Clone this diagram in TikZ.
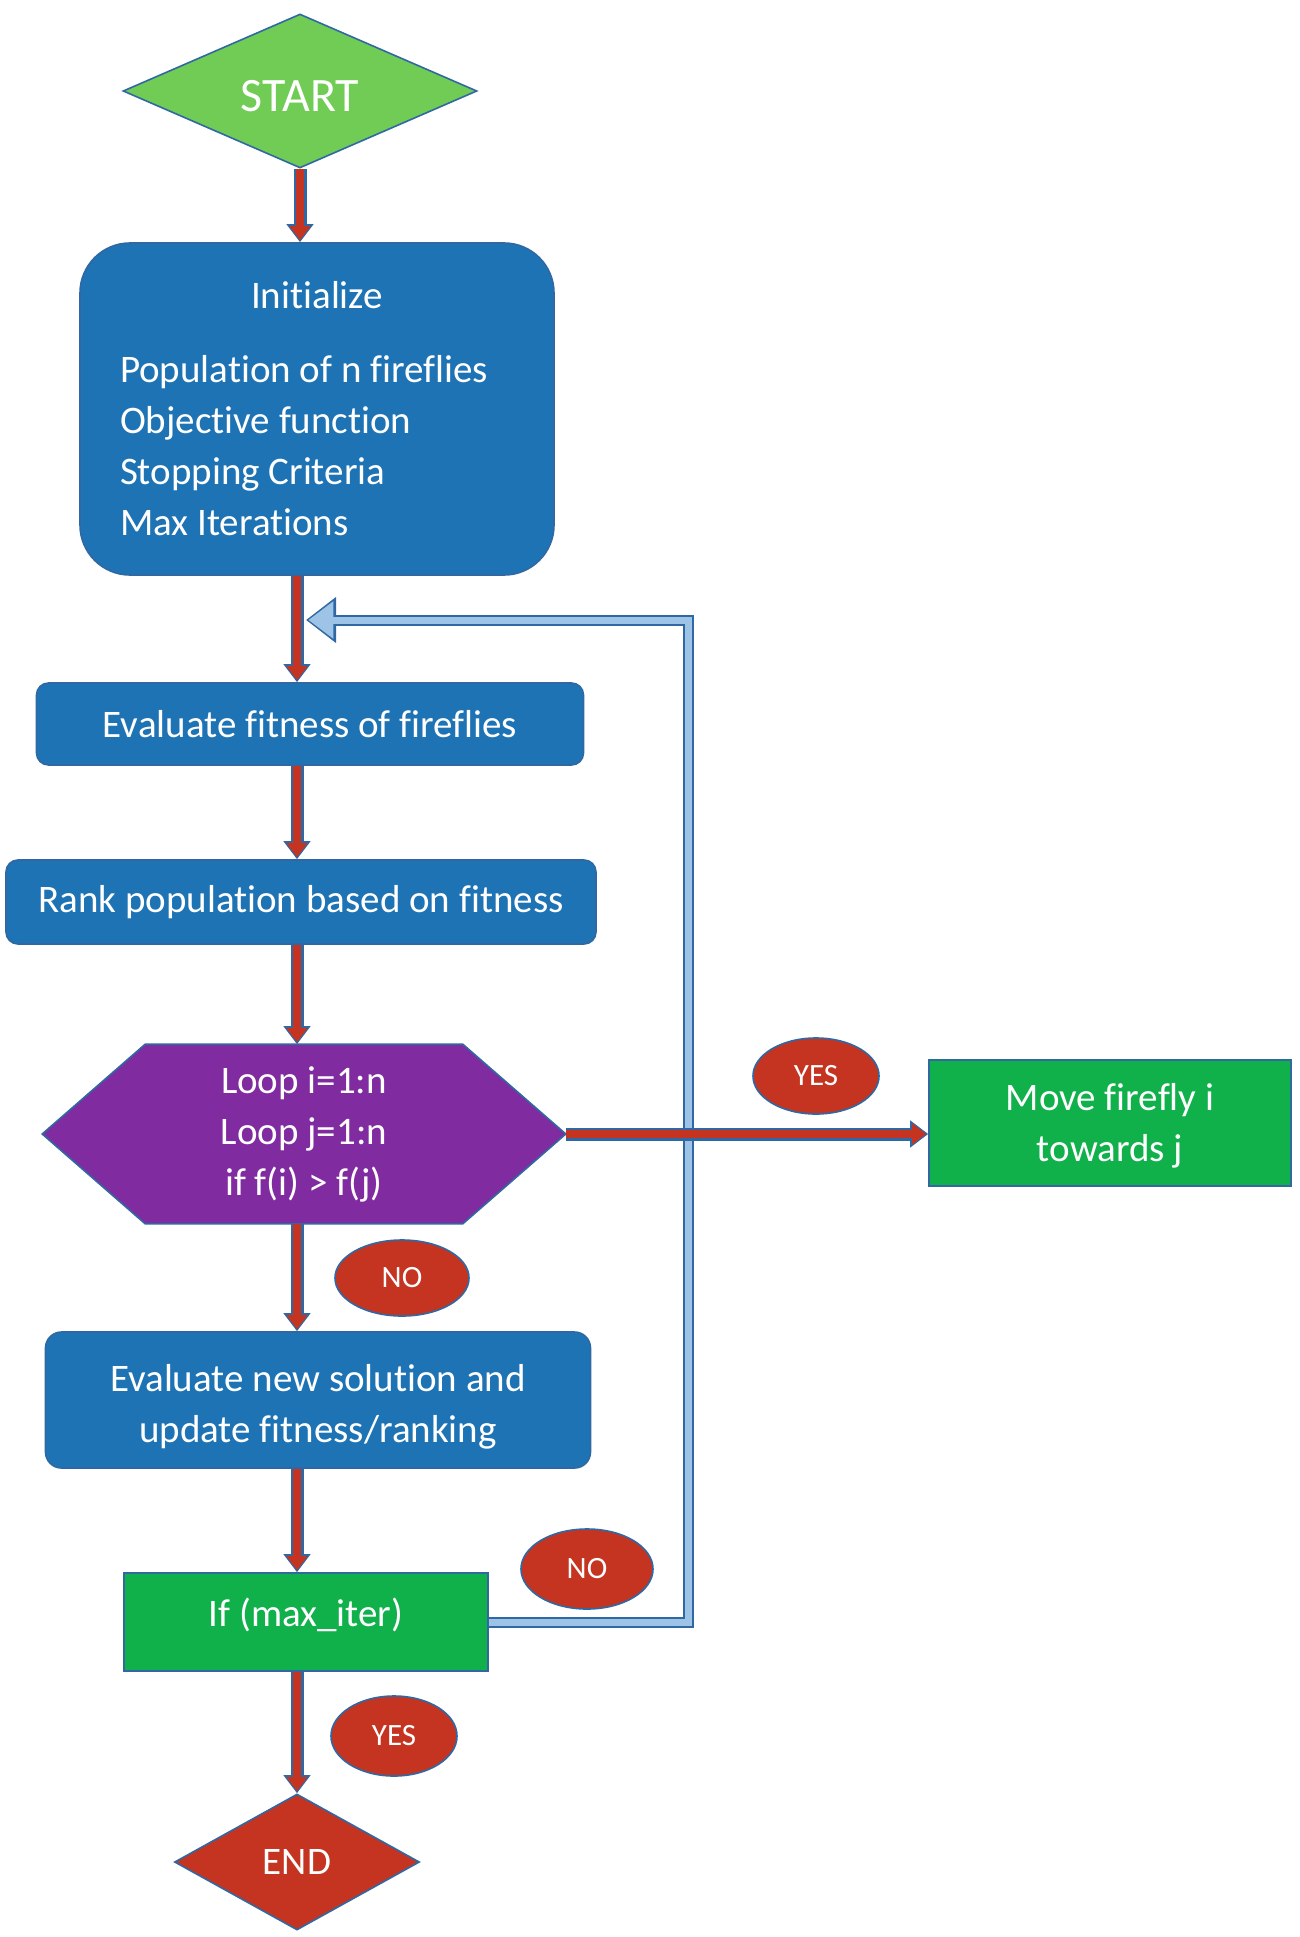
\documentclass[tikz,border=0pt]{standalone}
\usepackage{fontspec}
\setmainfont{Carlito}[Ligatures=CommonOff]
\usetikzlibrary{shapes.geometric,arrows.meta,backgrounds}

\definecolor{startgreen}{RGB}{112,204,84}
\definecolor{boxblue}{RGB}{30,115,181}
\definecolor{edgeblue}{RGB}{47,104,163}
\definecolor{looppurple}{RGB}{128,43,160}
\definecolor{boxgreen}{RGB}{16,176,74}
\definecolor{answerred}{RGB}{197,52,32}
\definecolor{backblue}{RGB}{157,195,230}

\newcommand\boxfont{\fontsize{19.5}{25.5}\selectfont}
\newcommand\answerfont{\fontsize{15.5}{18}\selectfont}
\newcommand\startfont{\fontsize{24}{28}\selectfont}

\tikzset{
  base/.style={draw=edgeblue, line width=0.8pt, text=white, font=\boxfont,
    inner sep=0pt, align=center},
  blockbox/.style={base, fill=boxblue, rounded corners=6pt},
  greenbox/.style={base, fill=boxgreen},
  answer/.style={base, ellipse, fill=answerred, font=\answerfont},
  terminal/.style={base, diamond, aspect=2.3},
  flow/.style={draw=answerred, line width=4pt, -{Triangle[length=7pt,width=10pt]},
    shorten >=1pt,
    preaction={draw=edgeblue, line width=6.5pt, -{Triangle[length=9pt,width=13pt]},
      shorten >=0pt}},
  back/.style={draw=backblue, line width=3.5pt, line join=miter,
    -{Triangle[length=12.5pt,width=18pt]}, shorten >=1.2pt,
    preaction={draw=edgeblue, line width=5.5pt, line join=miter,
      -{Triangle[length=15pt,width=22pt]}, shorten >=0pt}}
}

\begin{document}
\begin{tikzpicture}[x=0.5pt,y=-0.5pt]
  \useasboundingbox (0,0) rectangle (1300,1937);

  % main column
  \node[terminal, fill=startgreen, minimum width=177pt, minimum height=77pt,
    font=\startfont] (start) at (300,91) {\rule{0pt}{21pt}START};
  \node[blockbox, rounded corners=25pt, minimum width=237pt, minimum height=166pt,
    text width=197pt, align=left] (init) at (317,409)
    {\spaceskip=0pt\xspaceskip=0pt\relax
     \makebox[197pt]{Initialize}\\[11.5pt]
     Population of n fireflies\\
     Objective function\\
     Stopping Criteria\\
     Max Iterations};
  \node[blockbox, minimum width=273.5pt, minimum height=41pt] (eval) at (310,724)
    {Evaluate fitness of fireflies};
  \node[blockbox, minimum width=295pt, minimum height=42pt] (rank) at (301,902)
    {Rank population based on fitness};
  \node[base, draw=none, minimum width=261pt, minimum height=89pt] (loop) at (304,1134)
    {Loop i=1:n\\ Loop j=1:n\\ if f(i) > f(j)};
  \node[blockbox, rounded corners=8pt, minimum width=272.5pt, minimum height=68pt]
    (evalnew) at (318,1400)
    {\rule{0pt}{20pt}Evaluate new solution and\\ update fitness/ranking};
  \node[greenbox, minimum width=182pt, minimum height=49pt] (ifmax) at (306,1622)
    {\raisebox{10pt}{If (max\_iter)}};
  \node[terminal, aspect=1.8, fill=answerred, minimum width=122.5pt,
    minimum height=68pt] (end) at (297,1862) {END};

  % side branch
  \node[greenbox, minimum width=181pt, minimum height=63pt] (move) at (1110,1123)
    {\rule{0pt}{16pt}Move firefly i\\ towards j};

  % yes / no tags
  \node[answer, minimum width=63pt, minimum height=38pt] (yesmove) at (816,1076) {YES};
  \node[answer, minimum width=67pt, minimum height=38pt] (noloop) at (402,1278) {NO};
  \node[answer, minimum width=66pt, minimum height=40pt] (noiter) at (587,1569) {NO};
  \node[answer, minimum width=63pt, minimum height=40pt] (yesend) at (394,1736) {YES};

  \begin{scope}[on background layer]
    \draw[draw=edgeblue, line width=0.8pt, fill=looppurple]
      (loop.west) -- ([xshift=51.5pt]loop.north west)
      -- ([xshift=-51.5pt]loop.north east) -- (loop.east)
      -- ([xshift=-51.5pt]loop.south east)
      -- ([xshift=51.5pt]loop.south west) -- cycle;
  \end{scope}

  % loop back
  \coordinate (bend) at (688,620);
  \coordinate (reentry) at (306,620);
  \draw[back] (ifmax.east) -| (bend) -- (reentry);

  % arrows
  \coordinate (spine) at (297,0);
  \draw[flow] (start.south) -- (start.south |- init.north);
  \draw[flow] (init.south -| spine) -- (eval.north -| spine);
  \draw[flow] (eval.south -| spine) -- (rank.north -| spine);
  \draw[flow] (rank.south -| spine) -- (loop.north -| spine);
  \draw[flow] (loop.south -| spine) -- (evalnew.north -| spine);
  \draw[flow] (evalnew.south -| spine) -- (ifmax.north -| spine);
  \draw[flow] (ifmax.south -| spine) -- (end.north);
  \draw[flow] (loop.east) -- (loop.east -| move.west);
\end{tikzpicture}
\end{document}
